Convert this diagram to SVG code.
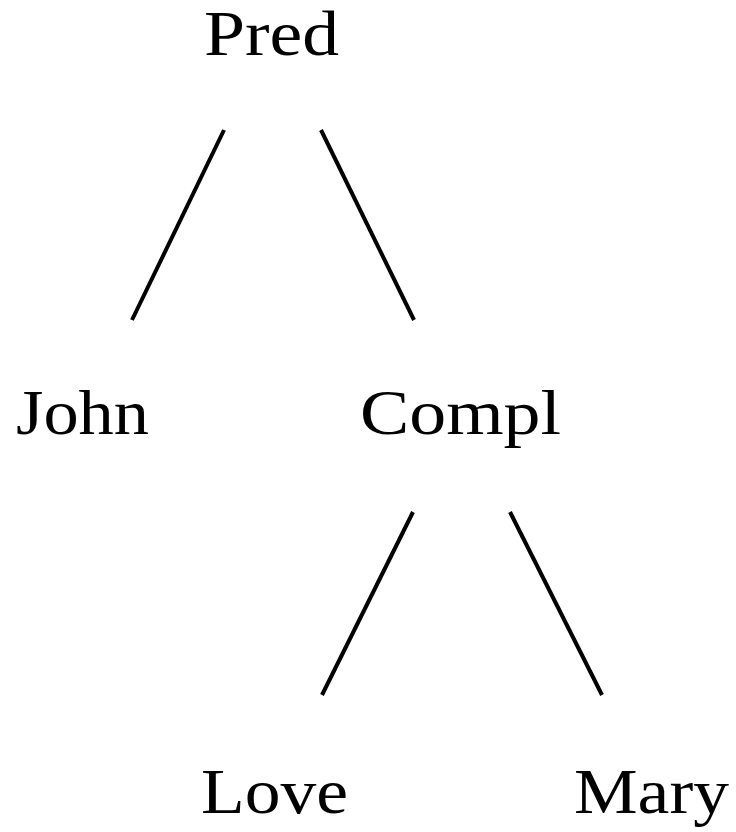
<svg xmlns="http://www.w3.org/2000/svg" width="736" height="832" viewBox="0 0 736 832">
<style>
text{font-family:"Liberation Serif","Times New Roman",serif;font-size:63px;fill:#000}
.edge{stroke:#000;stroke-width:4;stroke-linecap:butt;fill:none}
</style>
<rect width="736" height="832" fill="#fff"/>
<g id="connectors">
<line class="edge" x1="224" y1="130" x2="132" y2="320"/>
<line class="edge" x1="321" y1="130" x2="414" y2="320"/>
<line class="edge" x1="413" y1="512" x2="322" y2="695"/>
<line class="edge" x1="510" y1="512" x2="602" y2="695"/>
</g>
<g id="pred"><text x="204" y="55" textLength="135" lengthAdjust="spacingAndGlyphs">Pred</text></g>
<g id="john"><text x="16" y="434" textLength="133" lengthAdjust="spacingAndGlyphs">John</text></g>
<g id="compl"><text x="360" y="434" textLength="201" lengthAdjust="spacingAndGlyphs">Compl</text></g>
<g id="love"><text x="201" y="813" textLength="147" lengthAdjust="spacingAndGlyphs">Love</text></g>
<g id="mary"><text x="574" y="813" textLength="155" lengthAdjust="spacingAndGlyphs">Mary</text></g>
</svg>
